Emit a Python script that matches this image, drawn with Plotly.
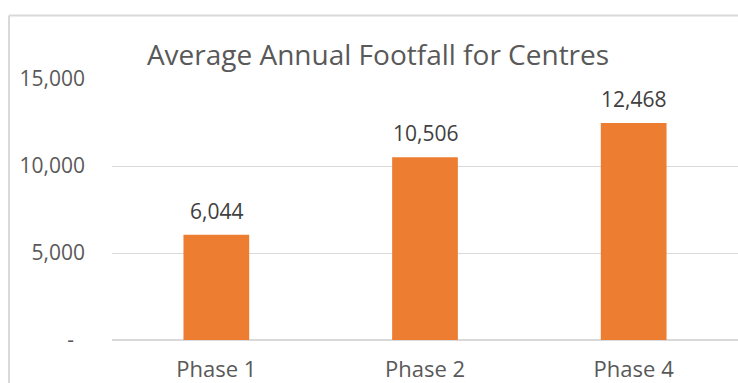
import plotly.graph_objects as go

# Average annual footfall per centre, by phase
phases = ["Phase 1", "Phase 2", "Phase 4"]
footfall = [6044, 10506, 12468]

tick_values = [0, 5000, 10000, 15000]
tick_labels = ["-\u00a0\u00a0", "5,000", "10,000", "15,000"]

BAR = "#ED7D31"
GRID = "#D9D9D9"
TEXT = "#595959"
FONT = "Open Sans"

fig = go.Figure(
    go.Bar(
        x=phases,
        y=footfall,
        marker=dict(color=BAR, line=dict(width=0)),
        width=0.315,
        hoverinfo="skip",
    )
)

# value labels above each bar
for p, v in zip(phases, footfall):
    fig.add_annotation(
        x=p, y=v, xref="x", yref="y",
        text=f"{v:,}", showarrow=False,
        yanchor="bottom", yshift=8,
        font=dict(family=FONT, size=21, color="#404040"),
    )

# chart frame: left and top border
fig.add_shape(type="line", xref="paper", yref="paper",
              x0=-0.1645, x1=-0.1645, y0=-0.2, y1=1.243,
              line=dict(color=GRID, width=2))
fig.add_shape(type="line", xref="paper", yref="paper",
              x0=-0.1645, x1=1.05, y0=1.243, y1=1.243,
              line=dict(color=GRID, width=2))

fig.update_layout(
    width=738, height=383,
    margin=dict(l=112, r=0, t=79, b=41),
    paper_bgcolor="white", plot_bgcolor="white",
    showlegend=False,
    title=dict(
        text="Average Annual Footfall for Centres",
        x=378 / 738, xanchor="center", xref="container",
        y=1 - 55 / 383, yanchor="middle", yref="container",
        font=dict(family=FONT, size=28, color=TEXT),
    ),
    xaxis=dict(
        range=[-0.5, 2.5],
        showgrid=False, showline=False, zeroline=False,
        ticks="", ticklabelstandoff=14,
        tickfont=dict(family=FONT, size=22, color=TEXT),
        fixedrange=True,
    ),
    yaxis=dict(
        range=[0, 15000],
        tickvals=tick_values, ticktext=tick_labels,
        showgrid=True, gridcolor=GRID, gridwidth=1,
        zeroline=True, zerolinecolor=GRID, zerolinewidth=1.5,
        showline=False, ticks="",
        ticklabelstandoff=26,
        tickfont=dict(family=FONT, size=21, color=TEXT),
        fixedrange=True,
    ),
)

fig.write_html("out.html")
